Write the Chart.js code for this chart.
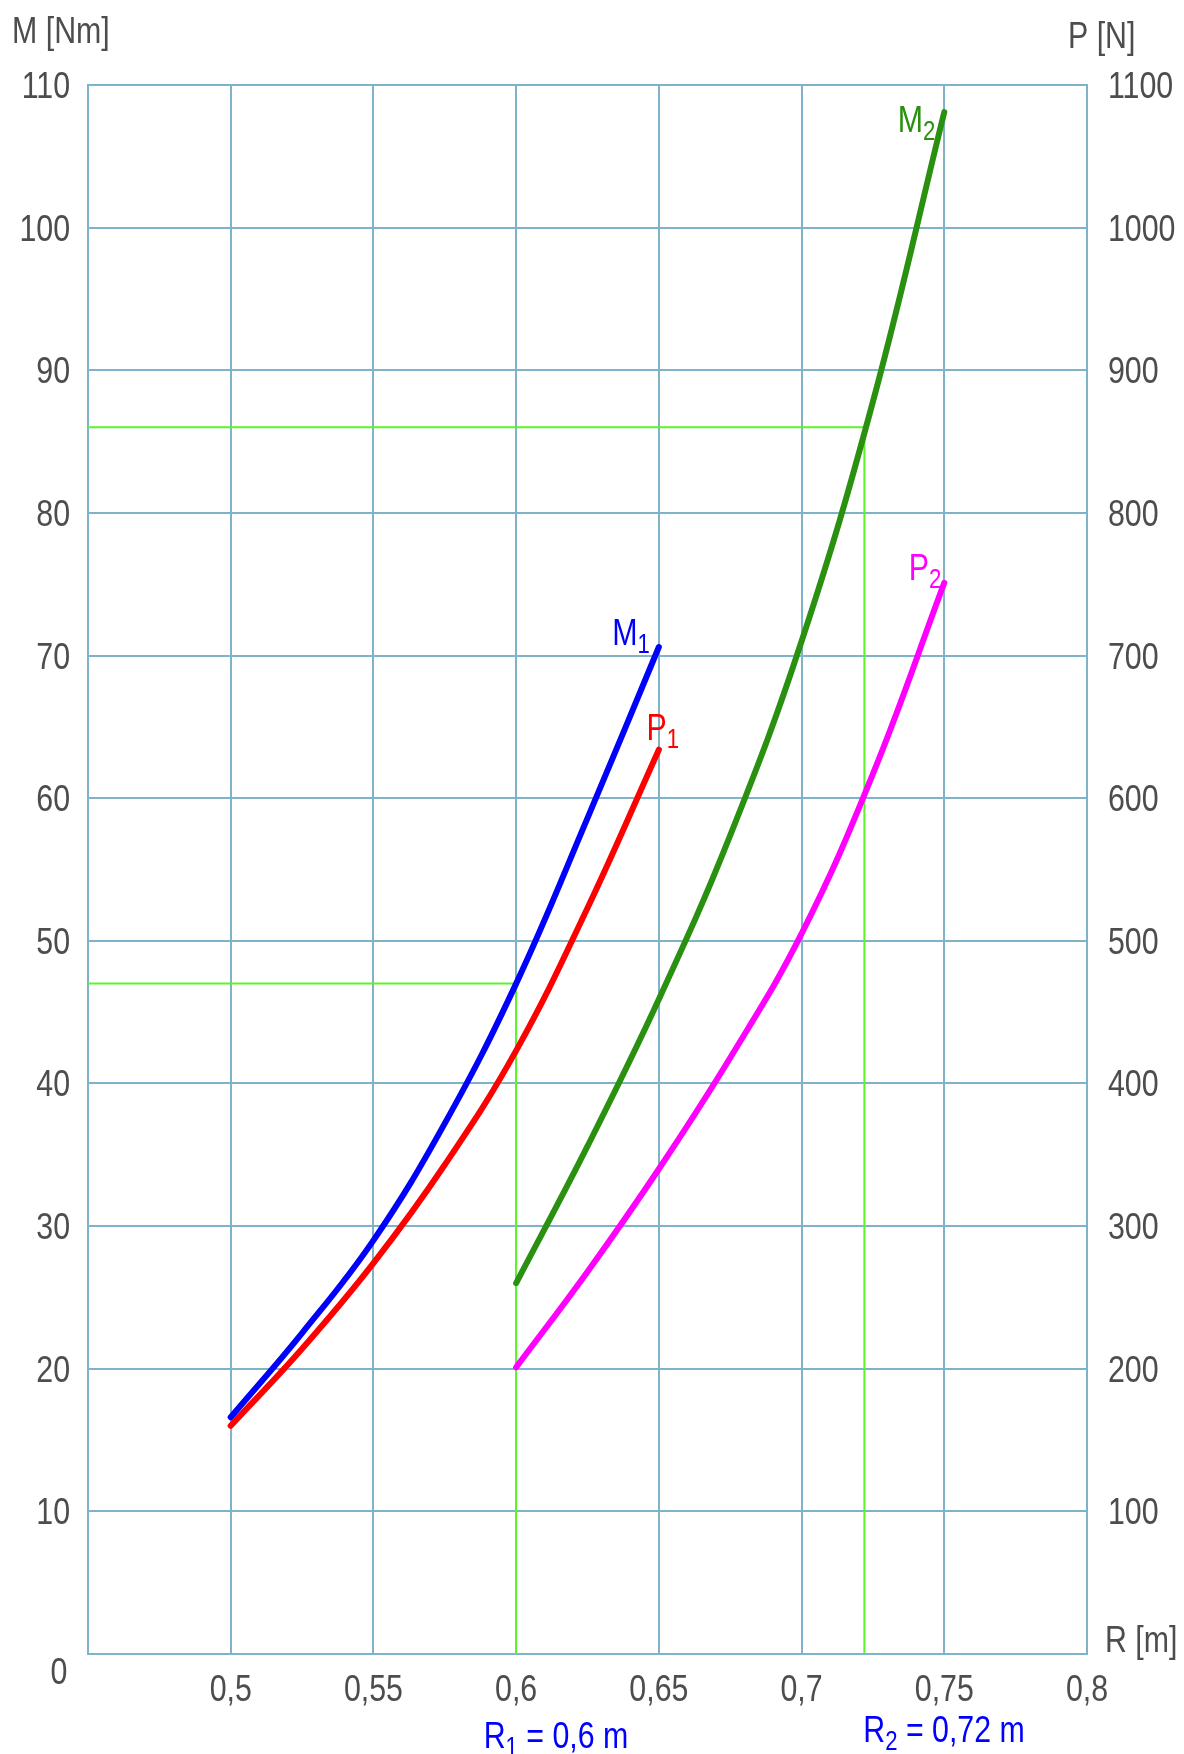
<!DOCTYPE html>
<html>
<head>
<meta charset="utf-8">
<script src="https://cdn.jsdelivr.net/npm/chart.js@4"></script>
<style>
  html, body { margin: 0; padding: 0; background: #fff; }
  #wrap { width: 1184px; height: 1754px; position: relative; }
</style>
</head>
<body>
<div id="wrap"><canvas id="grafico"></canvas></div>
<script>
// dados
const r1Values = [0.5, 0.525, 0.55, 0.575, 0.6, 0.625, 0.65];
const m1Values = [16.6, 22.5, 29.0, 37.2, 47.0, 58.6, 70.6];
const p1Values = [160, 214, 274, 343, 423, 523, 634];

const r2Values = [0.6, 0.625, 0.65, 0.675, 0.7, 0.725, 0.75];
const m2Values = [26.0, 35.6, 45.9, 57.4, 71.0, 87.8, 108.1];
const p2Values = [201, 268, 340, 418, 505, 617, 751];

// linhas auxiliares (R escolhido e momento correspondente)
const rEscolhidos = [0.6, 0.722];
const mEscolhidos = [47, 86];
const rTextos = ["0,6", "0,72"];

const xTicks = [0.45, 0.5, 0.55, 0.6, 0.65, 0.7, 0.75, 0.8];
const mTicks = [0, 10, 20, 30, 40, 50, 60, 70, 80, 90, 100, 110];
const pTicks = [0, 100, 200, 300, 400, 500, 600, 700, 800, 900, 1000, 1100];

const FONTE = "'Liberation Sans', Arial, sans-serif";
const ESTREITO = 0.82; // imita Arial Narrow
const corTexto = "#4d4d4d";
const corGrade = "#7fb3c9";
const corAux = "#5cf52a";

const pts = (xs, ys) => xs.map((x, i) => ({ x: x, y: ys[i] }));
const fmt = (v) => String(Math.round(v * 100) / 100).replace(".", ",");

function linhaAux(r, m) {
  return {
    data: [{ x: xTicks[0], y: m }, { x: r, y: m }, { x: r, y: mTicks[0] }],
    borderColor: corAux, borderWidth: 2, pointRadius: 0, tension: 0,
    showLine: true, yAxisID: "y", order: 10
  };
}

function curva(xs, ys, cor, eixo) {
  return {
    data: pts(xs, ys), borderColor: cor, borderWidth: 6, pointRadius: 0,
    showLine: true, tension: 0.4, yAxisID: eixo,
    borderCapStyle: "round", order: 1
  };
}

// texto estreito com índice (subscrito)
function textoSub(ctx, partes, x, y, cor, align) {
  ctx.save();
  ctx.fillStyle = cor;
  ctx.textBaseline = "alphabetic";
  ctx.textAlign = "left";
  let largura = 0;
  partes.forEach(p => {
    ctx.font = (p[1] ? "27px " : "37px ") + FONTE;
    largura += ctx.measureText(p[0]).width * ESTREITO;
  });
  let cx = x;
  if (align === "right") cx = x - largura;
  if (align === "center") cx = x - largura / 2;
  partes.forEach(p => {
    ctx.font = (p[1] ? "27px " : "37px ") + FONTE;
    ctx.save();
    ctx.translate(cx, p[1] ? y + 8 : y);
    ctx.scale(ESTREITO, 1);
    ctx.fillText(p[0], 0, 0);
    ctx.restore();
    cx += ctx.measureText(p[0]).width * ESTREITO;
  });
  ctx.restore();
}
const texto = (ctx, t, x, y, cor, align) => textoSub(ctx, [[t, false]], x, y, cor, align);

const rotulos = {
  id: "rotulos",
  afterDatasetsDraw(chart) {
    const ctx = chart.ctx;
    const sx = chart.scales.x, sy = chart.scales.y, sp = chart.scales.y2;
    const meio = 13; // metade da altura dos algarismos

    // marcas dos eixos
    xTicks.forEach(v => {
      if (v !== xTicks[0]) texto(ctx, fmt(v), sx.getPixelForValue(v), 1701, corTexto, "center");
    });
    mTicks.forEach(v => {
      if (v === 0) texto(ctx, "0", 59, 1684, corTexto, "center");
      else texto(ctx, String(v), 70, sy.getPixelForValue(v) + meio, corTexto, "right");
    });
    pTicks.forEach(v => {
      if (v !== 0) texto(ctx, String(v), 1108, sp.getPixelForValue(v) + meio, corTexto, "left");
    });

    // títulos dos eixos
    texto(ctx, "M [Nm]", 12, 43, corTexto, "left");
    texto(ctx, "P [N]", 1068, 48, corTexto, "left");
    texto(ctx, "R [m]", 1105, 1652, corTexto, "left");

    // nomes das curvas
    const n1 = r1Values.length - 1, n2 = r2Values.length - 1;
    let ex = sx.getPixelForValue(r1Values[n1]);
    textoSub(ctx, [["M", false], ["1", true]], ex - 9, sy.getPixelForValue(m1Values[n1]) - 2, "#0000ff", "right");
    textoSub(ctx, [["P", false], ["1", true]], ex + 4, sp.getPixelForValue(p1Values[n1]) - 10, "#ff0000", "center");
    ex = sx.getPixelForValue(r2Values[n2]);
    textoSub(ctx, [["M", false], ["2", true]], ex - 9, sy.getPixelForValue(m2Values[n2]) + 20, "#2a9010", "right");
    textoSub(ctx, [["P", false], ["2", true]], ex - 3, sp.getPixelForValue(p2Values[n2]) - 3, "#ff00ff", "right");

    // valores de R escolhidos
    textoSub(ctx, [["R", false], ["1", true], [" = " + rTextos[0] + " m", false]], 556, 1748, "#0000ff", "center");
    textoSub(ctx, [["R", false], ["2", true], [" = " + rTextos[1] + " m", false]], 944, 1742, "#0000ff", "center");
  }
};

new Chart(document.getElementById("grafico"), {
  type: "scatter",
  data: {
    datasets: [
      linhaAux(rEscolhidos[0], mEscolhidos[0]),
      linhaAux(rEscolhidos[1], mEscolhidos[1]),
      curva(r1Values, m1Values, "#0000ff", "y"),
      curva(r1Values, p1Values, "#ff0000", "y2"),
      curva(r2Values, m2Values, "#2a9010", "y"),
      curva(r2Values, p2Values, "#ff00ff", "y2")
    ]
  },
  options: {
    responsive: true,
    maintainAspectRatio: false,
    animation: false,
    layout: { padding: { top: 85, left: 0, right: 0, bottom: 0 } },
    plugins: { legend: { display: false }, tooltip: { enabled: false } },
    scales: {
      x: {
        type: "linear", min: xTicks[0], max: xTicks[xTicks.length - 1],
        afterBuildTicks: (s) => { s.ticks = xTicks.map(v => ({ value: v })); },
        afterFit: (s) => { s.height = 100; },
        grid: { color: corGrade, lineWidth: 2, drawTicks: false },
        border: { color: corGrade, width: 2 },
        ticks: { display: false }
      },
      y: {
        type: "linear", position: "left", min: mTicks[0], max: mTicks[mTicks.length - 1],
        afterBuildTicks: (s) => { s.ticks = mTicks.map(v => ({ value: v })); },
        afterFit: (s) => { s.width = 88; },
        grid: { color: corGrade, lineWidth: 2, drawTicks: false },
        border: { color: corGrade, width: 2 },
        ticks: { display: false }
      },
      y2: {
        type: "linear", position: "right", min: pTicks[0], max: pTicks[pTicks.length - 1],
        afterBuildTicks: (s) => { s.ticks = pTicks.map(v => ({ value: v })); },
        afterFit: (s) => { s.width = 97; },
        grid: { drawOnChartArea: false, drawTicks: false },
        border: { color: corGrade, width: 2 },
        ticks: { display: false }
      }
    }
  },
  plugins: [rotulos]
});
</script>
</body>
</html>
